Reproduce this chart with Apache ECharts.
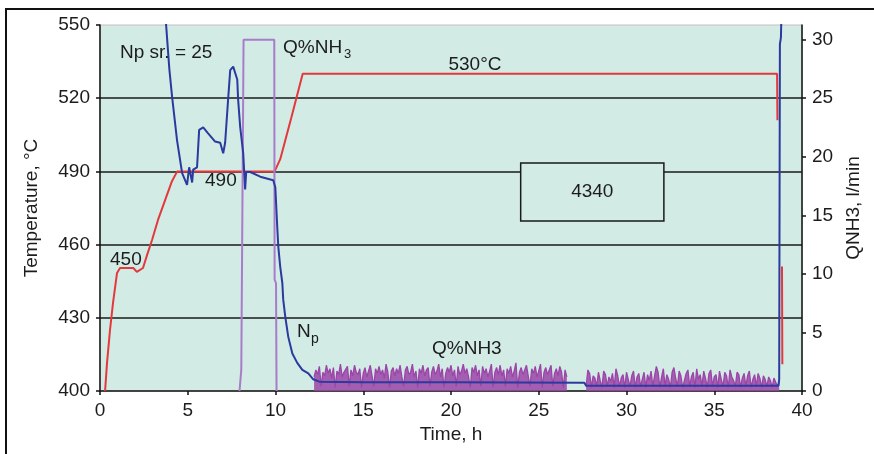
<!DOCTYPE html>
<html>
<head>
<meta charset="utf-8">
<style>
  html, body { margin: 0; padding: 0; background: #fff; }
  #chart { width: 874px; height: 454px; }
</style>
<script src="https://cdn.jsdelivr.net/npm/echarts@6/dist/echarts.min.js"></script>
</head>
<body>
<div id="chart"></div>
<script>
// temperature, °C (left axis)
const tempData = [
  [0.29, 400], [0.4, 411.5], [0.57, 425], [0.74, 436], [0.97, 448.4], [1.14, 450.4],
  [1.9, 450.4], [2.1, 448.8], [2.45, 450.4], [2.68, 455.7], [2.97, 462], [3.3, 470],
  [3.7, 478], [4.1, 486], [4.4, 490], [9.95, 490], [10.27, 495], [10.9, 512],
  [11.55, 530], [14.35, 530], [14.4, 530.8], [14.45, 530], [35.0, 530], [35.05, 529.4],
  [35.1, 530], [36.3, 530], [36.35, 530.6], [36.4, 530], [38.58, 530], [38.6, 511],
  [38.7, null], [38.86, 451], [38.88, 411]
];

// nitriding potential Np (right axis scale)
const npData = [
  [3.70, 33.0], [3.77, 31.2], [3.95, 27.5], [4.11, 25.1], [4.39, 21.4], [4.68, 18.6],
  [4.96, 17.6], [5.08, 19.1], [5.25, 17.8], [5.31, 18.9], [5.53, 19.1], [5.65, 22.3],
  [5.88, 22.5], [6.16, 22.0], [6.56, 21.3], [6.85, 21.2], [7.02, 20.3], [7.13, 21.2],
  [7.30, 24.9], [7.42, 27.4], [7.59, 27.7], [7.82, 26.6], [7.87, 24.9], [7.99, 22.5],
  [8.16, 20.3], [8.27, 17.2], [8.33, 18.7], [8.56, 18.7], [9.13, 18.3], [9.87, 18.0],
  [9.99, 17.4], [10.10, 14.0], [10.16, 12.3], [10.27, 10.6], [10.39, 9.2], [10.44, 7.8],
  [10.56, 6.3], [10.73, 4.6], [10.96, 3.2], [11.24, 2.4], [11.53, 1.8], [11.87, 1.5],
  [12.15, 1.0], [12.5, 0.8], [15, 0.75], [20, 0.75], [27.6, 0.7], [27.7, 0.45],
  [38.66, 0.45], [38.7, 1.0], [38.74, 29.6], [38.8, 30.2], [38.84, 33]
];

// ammonia flow, l/min – the purge block
const qBlock = [
  [7.95, 0], [8.05, 1.8], [8.14, 1.9], [8.18, 30], [9.93, 30], [9.95, 9.5], [10.03, 9.2], [10.06, 0]
];

// ammonia flow, l/min – pulsed dosing, sampled every 0.1 h
const noiseStep = 0.1;
const noise1Start = 12.2;
const noise1 = [
  1.2,1.8,1.4,2.1,0.4,1.6,1.3,2.2,1.5,1.9,
  1.1,2.0,0.3,1.7,1.4,2.3,1.2,1.6,1.5,2.1,
  0.4,1.8,1.3,2.2,1.6,1.4,1.9,0.3,1.5,2.0,
  1.2,1.7,2.2,1.3,0.4,1.9,1.5,2.1,1.4,1.8,
  1.1,2.3,1.6,0.3,1.7,2.0,1.3,1.9,1.5,2.2,
  1.2,0.4,1.8,2.1,1.4,1.6,2.3,1.2,1.7,0.3,
  1.9,1.5,2.2,1.3,1.8,2.0,0.4,1.6,2.1,1.4,
  1.7,2.3,1.2,1.9,0.3,1.5,2.0,1.6,2.2,1.3,
  1.8,0.4,2.1,1.4,1.7,2.3,1.5,1.9,1.2,0.3,
  2.0,1.6,2.2,1.3,1.8,0.4,2.1,1.5,1.9,1.2,
  1.7,2.3,0.3,1.6,2.0,1.4,2.2,1.3,1.8,0.4,
  1.9,1.5,2.1,1.2,1.7,2.4,0.3,1.6,2.0,1.4,
  1.8,2.2,1.3,0.4,1.9,1.5,2.1,1.2,1.7,2.3,
  0.3,1.6,2.0,1.4,1.8,2.2,0.4,1.5,1.9,1.3,
  2.1,1.6,0.3,1.8,1.2
];
const noise2Start = 27.7;
const noise2 = [
  0.4,1.8,1.5,0.3,1.3,1.1,0.4,1.6,0.9,0.3,
  1.7,1.4,0.4,1.2,0.8,1.5,0.3,1.9,1.3,0.4,
  1.1,1.4,0.3,1.6,1.0,0.4,1.3,1.7,0.3,1.2,
  1.5,0.4,1.0,1.6,0.3,1.4,0.9,1.7,0.4,1.3,
  2.1,1.6,0.3,1.2,1.9,0.4,1.4,1.0,0.3,1.6,
  2.0,1.1,0.4,1.7,1.3,0.3,0.9,1.5,1.8,0.4,
  1.2,1.6,0.3,1.9,1.0,1.4,0.4,1.7,1.1,0.3,
  1.5,1.8,0.4,1.2,1.4,0.3,1.7,1.0,0.4,1.6,
  1.3,0.3,1.8,1.2,0.9,0.4,1.6,1.4,0.3,1.1,
  1.5,0.4,1.3,1.7,0.3,1.0,1.4,0.4,1.5,1.1,
  0.3,1.3,1.0,0.4,1.2,0.9,0.3,1.1,1.0,0.4,
  0.8
];

// annotation box (data coords)
const boxX = [23.97, 32.13];
const boxY = [493.4, 469.7];
const boxLabel = '4340';

const noiseData = noise1.map((v, i) => [noise1Start + i * noiseStep, v])
  .concat([[27.1, null]])
  .concat(noise2.map((v, i) => [noise2Start + i * noiseStep, v]));

const FONT = 'Liberation Sans, Arial, sans-serif';
const BG = '#d2ebe5';
const TXT = '#1c1c1c';

const chart = echarts.init(document.getElementById('chart'));

const txt = (x, y, text, size, align) => ({
  type: 'text', x: x, y: y, z: 100,
  style: { text: text, fontSize: size || 19, fontFamily: FONT, fill: TXT, align: align || 'left', verticalAlign: 'middle' }
});

chart.setOption({
  backgroundColor: '#fff',
  animation: false,
  grid: {
    left: 100, right: 72, top: 25, bottom: 63,
    show: true, backgroundColor: BG, borderColor: '#c9bcbc', borderWidth: 1
  },
  xAxis: {
    type: 'value', min: 0, max: 40, interval: 5,
    name: 'Time, h', nameLocation: 'middle', nameGap: 34,
    nameTextStyle: { fontSize: 19, fontFamily: FONT, color: TXT },
    axisLine: { show: true, lineStyle: { color: '#111', width: 1.5 } },
    axisTick: { show: true, length: 4, lineStyle: { color: '#111', width: 1.5 } },
    axisLabel: { fontSize: 19, fontFamily: FONT, color: TXT, margin: 10 },
    splitLine: { show: false }
  },
  yAxis: [
    {
      type: 'value', min: 400, max: 550, interval: 30, position: 'left',
      name: 'Temperature, °C', nameLocation: 'middle', nameGap: 59,
      nameTextStyle: { fontSize: 19, fontFamily: FONT, color: TXT },
      axisLine: { show: true, lineStyle: { color: '#111', width: 1.5 } },
      axisTick: { show: true, length: 4, lineStyle: { color: '#111', width: 1.5 } },
      axisLabel: { fontSize: 19, fontFamily: FONT, color: TXT, margin: 10 },
      splitLine: { show: true, showMinLine: false, showMaxLine: false, lineStyle: { color: '#1a1a1a', width: 1.5 } }
    },
    {
      type: 'value', min: 0, max: 31.25, interval: 5, position: 'right',
      name: 'QNH3, l/min', nameLocation: 'middle', nameGap: 41,
      nameTextStyle: { fontSize: 19, fontFamily: FONT, color: TXT },
      axisLine: { show: true, lineStyle: { color: '#111', width: 1.5 } },
      axisTick: { show: true, length: 4, lineStyle: { color: '#111', width: 1.5 } },
      axisLabel: {
        fontSize: 19, fontFamily: FONT, color: TXT, margin: 10, showMaxLabel: false,
        formatter: v => (v % 5 === 0 ? String(v) : '')
      },
      splitLine: { show: false }
    }
  ],
  series: [
    {
      name: 'T', type: 'line', data: tempData, yAxisIndex: 0,
      showSymbol: false, lineStyle: { color: '#e4393c', width: 2 }, z: 3,
      markArea: {
        silent: true,
        itemStyle: { color: BG, borderColor: '#1a1a1a', borderWidth: 1.5 },
        label: { show: true, position: 'inside', fontSize: 19, fontFamily: FONT, color: TXT },
        data: [[{ name: boxLabel, coord: [boxX[0], boxY[0]] }, { coord: [boxX[1], boxY[1]] }]]
      }
    },
    {
      name: 'Qblock', type: 'line', data: qBlock, yAxisIndex: 1,
      showSymbol: false, lineStyle: { color: '#a97cc9', width: 2 }, z: 4
    },
    {
      name: 'Qpulse', type: 'line', data: noiseData, yAxisIndex: 1,
      showSymbol: false, lineStyle: { color: '#9b45a8', width: 1.3 }, z: 5,
      areaStyle: { color: '#9b45a8', opacity: 0.85 }
    },
    {
      name: 'Np', type: 'line', data: npData, yAxisIndex: 1,
      showSymbol: false, lineStyle: { color: '#2a3a9e', width: 2 }, z: 6
    }
  ],
  graphic: [
    {
      type: 'rect', z: 0, silent: true,
      shape: { x: 6, y: 9, width: 880, height: 460 },
      style: { fill: 'none', stroke: '#111', lineWidth: 2 }
    },
    txt(120, 53, 'Np sr. = 25'),
    txt(283, 48, 'Q%NH'),
    txt(344, 54, '3', 13),
    txt(475, 65, '530°C', 19, 'center'),
    txt(205, 181, '490'),
    txt(110, 260, '450'),
    txt(297, 332, 'N'),
    txt(311, 339, 'p', 14),
    txt(432, 349, 'Q%NH3')
  ]
});

window.addEventListener('resize', () => chart.resize());
</script>
</body>
</html>
